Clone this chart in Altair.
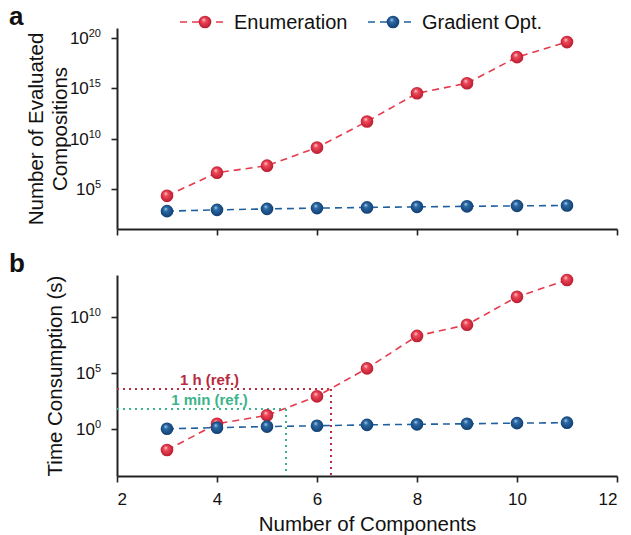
import altair as alt
import pandas as pd

# ---------------- data ----------------
n_comp = [3, 4, 5, 6, 7, 8, 9, 10, 11]
series_names = ["Enumeration", "Gradient Opt."]
enum_evals = [2.0e4, 4.0e6, 2.0e7, 1.26e9, 5.0e11, 3.2e14, 3.2e15, 1.26e18, 4.0e19]
grad_evals = [600, 800, 1000, 1200, 1400, 1600, 1800, 2000, 2200]
enum_time = [0.0126, 2.8, 16, 800, 2.5e5, 2.0e8, 2.0e9, 6.3e11, 2.0e13]
grad_time = [1.0, 1.26, 1.58, 1.86, 2.24, 2.5, 2.8, 3.2, 3.5]
ref_labels = ["1 h (ref.)", "1 min (ref.)"]
ref_seconds = [3600, 60]
ref_cross = [6.28, 5.38]
ref_label_x = [3.85, 3.85]
x_ticks = [2, 4, 6, 8, 10, 12]
ya_ticks = [1e5, 1e10, 1e15, 1e20]
ya_exps = ["5", "10", "15", "20"]
yb_ticks = [1, 1e5, 1e10]
yb_exps = ["0", "5", "10"]
ya_domain = [10, 1e21]
yb_domain = [6e-5, 5.6e13]

FONT = "Liberation Sans"
RED = "#e63a4c"
BLUE = "#20609e"
REF_COLORS = ["#b82a40", "#3cb48c"]
W, H = 500, 201

red_fill = {"gradient": "radial", "x1": 0.38, "y1": 0.3, "r1": 0.0,
            "x2": 0.5, "y2": 0.5, "r2": 0.55,
            "stops": [{"offset": 0, "color": "#ffe4e7"},
                      {"offset": 0.3, "color": "#f04a5b"},
                      {"offset": 1, "color": "#b3162a"}]}
blue_fill = {"gradient": "radial", "x1": 0.38, "y1": 0.3, "r1": 0.0,
             "x2": 0.5, "y2": 0.5, "r2": 0.55,
             "stops": [{"offset": 0, "color": "#c9dcf0"},
                       {"offset": 0.3, "color": "#2a6aa8"},
                       {"offset": 1, "color": "#0f3a6a"}]}

axis_common = dict(grid=False, domainColor="#222", domainWidth=2, tickColor="#222",
                   tickWidth=1.6, tickSize=6, labelFont=FONT, labelFontSize=17,
                   labelColor="#111", titleFont=FONT, titleFontSize=20.5,
                   titleFontWeight="normal", titleColor="#111")

x_scale = alt.Scale(domain=[2, 12], nice=False, zero=False)


def make_df(a, b):
    rows = []
    for name, vals in zip(series_names, [a, b]):
        for n, v in zip(n_comp, vals):
            rows.append({"n": n, "value": v, "series": name})
    return pd.DataFrame(rows)


def series_layers(df, x_enc, y_enc):
    layers = []
    for name, color in zip(series_names, [RED, BLUE]):
        layers.append(alt.Chart(df).transform_filter(alt.datum.series == name)
                      .mark_line(strokeDash=[7, 5], strokeWidth=1.6, color=color)
                      .encode(x=x_enc, y=y_enc))
    for name, fill in zip(series_names, [red_fill, blue_fill]):
        layers.append(alt.Chart(df).transform_filter(alt.datum.series == name)
                      .mark_circle(fill=fill, opacity=1, size=160, strokeWidth=0)
                      .encode(x=x_enc, y=y_enc))
    return layers


def tick_label_layers(ticks, exps, y_enc):
    """'10' with a real superscript exponent, right-aligned next to the y axis."""
    df = pd.DataFrame({"value": ticks, "exp": exps})
    layers = []
    for ndig in [1, 2]:
        sub = alt.Chart(df).transform_filter(f"length(datum.exp) == {ndig}")
        layers.append(sub.mark_text(align="right", baseline="alphabetic", dy=6,
                                    font=FONT, fontSize=17, color="#111", text="10")
                      .encode(x=alt.value(-16 - 6.1 * ndig), y=y_enc))
        layers.append(sub.mark_text(align="right", baseline="alphabetic", dy=-1,
                                    font=FONT, fontSize=11, color="#111")
                      .encode(x=alt.value(-16), y=y_enc, text="exp:N"))
    return layers


# ---------------- panel a ----------------
xa = alt.X("n:Q", scale=x_scale,
           axis=alt.Axis(values=x_ticks, labels=False, title=None, **axis_common))
ya = alt.Y("value:Q", scale=alt.Scale(type="log", domain=ya_domain, nice=False),
           axis=alt.Axis(values=ya_ticks, labels=False,
                         title=["Number of Evaluated", "Compositions"],
                         titleAngle=-90, titleX=-75, titleY=H / 2, titleAlign="center",
                         titleBaseline="alphabetic", titleLineHeight=24, **axis_common))
df_a = make_df(enum_evals, grad_evals)

legend_layers = []
for name, color, fill, x0 in zip(series_names, [RED, BLUE], [red_fill, blue_fill], [63, 251]):
    ldf = pd.DataFrame({"s": [name]})
    legend_layers.append(alt.Chart(ldf).mark_rule(strokeDash=[7, 5], strokeWidth=1.6, color=color)
                         .encode(x=alt.value(x0), x2=alt.value(x0 + 48), y=alt.value(-6)))
    legend_layers.append(alt.Chart(ldf).mark_circle(fill=fill, opacity=1, size=160)
                         .encode(x=alt.value(x0 + 25), y=alt.value(-6)))
    legend_layers.append(alt.Chart(ldf).mark_text(align="left", baseline="alphabetic",
                                                  font=FONT, fontSize=20, color="#111")
                         .encode(text="s:N", x=alt.value(x0 + 54), y=alt.value(1)))

lab_a = alt.Chart(pd.DataFrame({"t": ["a"]})).mark_text(
    align="left", baseline="alphabetic", font=FONT, fontSize=26, fontWeight="bold",
    color="#111").encode(text="t:N", x=alt.value(-108), y=alt.value(-3))

panel_a = alt.layer(*series_layers(df_a, xa, ya), *tick_label_layers(ya_ticks, ya_exps, ya),
                    *legend_layers, lab_a).properties(width=W, height=H)

# ---------------- panel b ----------------
xb = alt.X("n:Q", scale=x_scale,
           axis=alt.Axis(values=x_ticks, title="Number of Components", labelPadding=9,
                         titleY=54, titleBaseline="alphabetic", **axis_common))
yb = alt.Y("value:Q", scale=alt.Scale(type="log", domain=yb_domain, nice=False),
           axis=alt.Axis(values=yb_ticks, labels=False,
                         title="Time Consumption (s)",
                         titleAngle=-90, titleX=-56, titleY=H / 2, titleAlign="center",
                         titleBaseline="alphabetic", **axis_common))
df_b = make_df(enum_time, grad_time)

ref_layers = []
for lab, sec, xc, lx, col in zip(ref_labels, ref_seconds, ref_cross, ref_label_x, REF_COLORS):
    h_df = pd.DataFrame({"n": [2], "n2": [xc], "value": [sec]})
    v_df = pd.DataFrame({"n": [xc], "value": [sec], "value2": [yb_domain[0]]})
    t_df = pd.DataFrame({"n": [lx], "value": [sec], "label": [lab]})
    ref_layers.append(alt.Chart(h_df).mark_rule(strokeDash=[2, 4], strokeWidth=2, color=col)
                      .encode(x=xb, x2="n2:Q", y=yb))
    ref_layers.append(alt.Chart(v_df).mark_rule(strokeDash=[2, 4], strokeWidth=2, color=col)
                      .encode(x=xb, y=yb, y2="value2:Q"))
    ref_layers.append(alt.Chart(t_df).mark_text(baseline="bottom", dy=-1, font=FONT,
                                                fontSize=15, fontWeight="bold", color=col)
                      .encode(x=xb, y=yb, text="label:N"))

lab_b = alt.Chart(pd.DataFrame({"t": ["b"]})).mark_text(
    align="left", baseline="alphabetic", font=FONT, fontSize=26, fontWeight="bold",
    color="#111").encode(text="t:N", x=alt.value(-108), y=alt.value(-3))

panel_b = alt.layer(*ref_layers, *series_layers(df_b, xb, yb),
                    *tick_label_layers(yb_ticks, yb_exps, yb), lab_b).properties(
    width=W, height=H)

chart = alt.vconcat(panel_a, panel_b, spacing=46, bounds="flush").configure_view(
    stroke=None).properties(padding={"left": 9, "top": 4, "right": 5, "bottom": 2})

chart.save("out.html", embed_options={"renderer": "svg", "actions": False})
